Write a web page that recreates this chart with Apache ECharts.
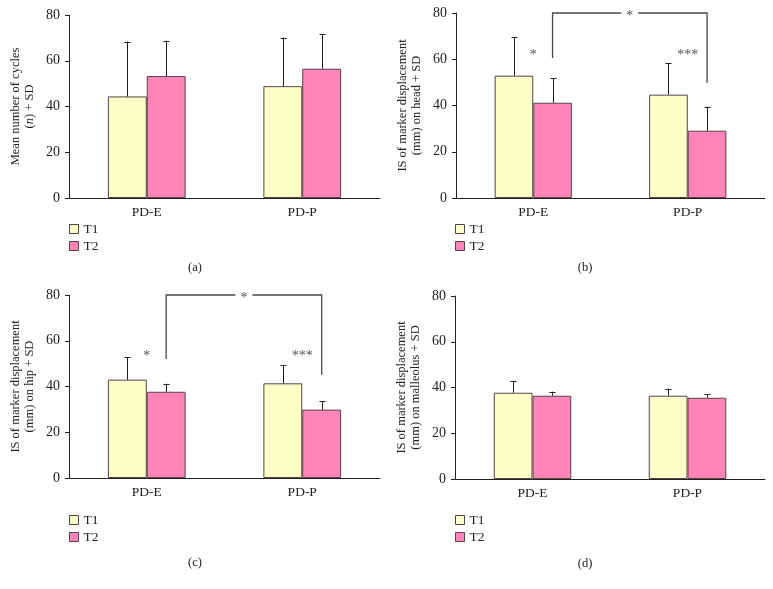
<!DOCTYPE html>
<html>
<head>
<meta charset="utf-8">
<script src="https://cdn.jsdelivr.net/npm/echarts@6/dist/echarts.min.js"></script>
<style>
html,body{margin:0;padding:0;background:#fff;}
#c{width:773px;height:589px;}
</style>
</head>
<body>
<div id="c"></div>
<script>
// ---- data ----
var categories = ['PD-E', 'PD-P'];
var seriesNames = ['T1', 'T2'];
var yTicks = [0, 20, 40, 60, 80];

// (a) mean number of cycles
var aT1 = [44.4, 48.9], aT1Sd = [24.0, 21.2];
var aT2 = [53.3, 56.5], aT2Sd = [15.5, 15.0];
// (b) head
var bT1 = [52.9, 44.7], bT1Sd = [16.9, 13.5];
var bT2 = [41.2, 29.1], bT2Sd = [10.6, 10.4];
// (c) hip
var cT1 = [43.0, 41.4], cT1Sd = [9.7, 8.0];
var cT2 = [37.7, 29.9], cT2Sd = [3.5, 3.6];
// (d) malleolus
var dT1 = [37.7, 36.4], dT1Sd = [5.3, 3.1];
var dT2 = [36.4, 35.5], dT2Sd = [1.8, 1.6];

// significance: [left bracket end, right bracket end, bracket top, star level]
var bSig = [60.5, 49.7, 80, 62.8];
var cSig = [52.0, 45.1, 80, 54.5];
var sigWithin = ['*', '***'];
var sigBetween = '*';

var yNames = [
  'Mean number of cycles\n({n|n}) + SD',
  'IS of marker displacement\n(mm) on head + SD',
  'IS of marker displacement\n(mm) on hip + SD',
  'IS of marker displacement\n(mm) on malleolus + SD'
];
var captions = ['(a)', '(b)', '(c)', '(d)'];

// ---- styles ----
var FONT = '"Liberation Serif", "DejaVu Serif", serif';
var TXT = '#222';
var T1C = '#fcffc6', T2C = '#ff85b8', BORDER = '#54424a';

var grids = [
  {left: 69, right: 393, top: 15, bottom: 391},
  {left: 456, right: 8, top: 13, bottom: 391},
  {left: 69, right: 393, top: 295, bottom: 111},
  {left: 455, right: 8, top: 296, bottom: 110}
];
var legendPos = [
  {left: 69, top: 222},
  {left: 455, top: 222},
  {left: 69, top: 513},
  {left: 455, top: 513}
];
var captionPos = [[195, 268], [585, 268], [195, 563], [585, 564]];

var panels = [
  [aT1, aT1Sd, aT2, aT2Sd],
  [bT1, bT1Sd, bT2, bT2Sd],
  [cT1, cT1Sd, cT2, cT2Sd],
  [dT1, dT1Sd, dT2, dT2Sd]
];

function errRender(offset) {
  return function (params, api) {
    var x = api.value(0);
    var lo = api.coord([x, api.value(1)]);
    var hi = api.coord([x, api.value(2)]);
    var band = api.size([1, 0])[0];
    var cx = Math.round(lo[0] + offset * band) + 0.5;
    var st = {stroke: '#1e1e1e', lineWidth: 1};
    return {type: 'group', children: [
      {type: 'line', shape: {x1: cx, y1: lo[1], x2: cx, y2: hi[1]}, style: st},
      {type: 'line', shape: {x1: cx - 3, y1: Math.round(hi[1]) + 0.5, x2: cx + 3, y2: Math.round(hi[1]) + 0.5}, style: st}
    ]};
  };
}

function sigRender(sig) {
  return function (params, api) {
    var band = api.size([1, 0])[0];
    var pL = api.coord([0, sig[0]]);
    var pR = api.coord([1, sig[1]]);
    var tL = api.coord([0, sig[2]]);
    var xL = pL[0] + 0.125 * band, xR = pR[0] + 0.125 * band;
    var yT = tL[1];
    var s0 = api.coord([0, sig[3]]);
    var s1 = api.coord([1, sig[3]]);
    var st = {stroke: '#4a4a4a', lineWidth: 1.3, fill: null};
    var txtStyle = function (t, x, y, bg) {
      var o = {text: t, x: x, y: y, fill: '#555', font: '14px ' + FONT, align: 'center', verticalAlign: 'middle'};
      if (bg) { o.backgroundColor = '#fff'; o.padding = [0, 5]; }
      return o;
    };
    return {type: 'group', children: [
      {type: 'polyline', shape: {points: [[xL, pL[1]], [xL, yT], [xR, yT], [xR, pR[1]]]}, style: st},
      {type: 'text', style: txtStyle(sigBetween, (xL + xR) / 2, yT + 3, true), z2: 10},
      {type: 'text', style: txtStyle(sigWithin[0], s0[0], s0[1] + 3)},
      {type: 'text', style: txtStyle(sigWithin[1], s1[0], s1[1] + 3)}
    ]};
  };
}

var option = {
  animation: false,
  backgroundColor: '#fff',
  grid: grids,
  xAxis: grids.map(function (g, i) {
    return {
      type: 'category', gridIndex: i, data: categories,
      axisLine: {lineStyle: {color: TXT, width: 1}},
      axisTick: {show: false},
      axisLabel: {color: TXT, fontFamily: FONT, fontSize: 13.5, margin: 7}
    };
  }),
  yAxis: grids.map(function (g, i) {
    return {
      type: 'value', gridIndex: i, min: yTicks[0], max: yTicks[yTicks.length - 1], interval: 20,
      splitLine: {show: false},
      axisLine: {show: true, lineStyle: {color: TXT, width: 1}},
      axisTick: {show: true, length: 4, lineStyle: {color: TXT}},
      axisLabel: {color: TXT, fontFamily: FONT, fontSize: 14, margin: 9},
      name: yNames[i], nameLocation: 'middle', nameRotate: 90, nameGap: 32,
      nameTextStyle: {color: TXT, fontFamily: FONT, fontSize: 12.5, lineHeight: 14,
        rich: {n: {fontStyle: 'italic', fontFamily: FONT, fontSize: 12.5, color: TXT, lineHeight: 14}}}
    };
  }),
  legend: legendPos.map(function (p) {
    return {
      left: p.left, top: p.top, orient: 'vertical', data: seriesNames, padding: 0,
      icon: 'rect', itemWidth: 9, itemHeight: 9, itemGap: 3,
      itemStyle: {borderColor: BORDER, borderWidth: 1},
      textStyle: {color: TXT, fontFamily: FONT, fontSize: 13.5},
      selectedMode: false
    };
  }),
  graphic: captions.map(function (t, i) {
    return {type: 'text', x: captionPos[i][0], y: captionPos[i][1],
      style: {text: t, fill: TXT, font: '12.5px ' + FONT, align: 'center', verticalAlign: 'middle'}};
  }),
  series: []
};

panels.forEach(function (p, i) {
  [0, 1].forEach(function (k) {
    var means = p[k * 2];
    option.series.push({
      type: 'bar', name: seriesNames[k], xAxisIndex: i, yAxisIndex: i,
      data: means, barGap: 0, barCategoryGap: '50%',
      itemStyle: {color: k === 0 ? T1C : T2C, borderColor: BORDER, borderWidth: 1}
    });
  });
});
panels.forEach(function (p, i) {
  [0, 1].forEach(function (k) {
    var means = p[k * 2], sds = p[k * 2 + 1];
    option.series.push({
      type: 'custom', xAxisIndex: i, yAxisIndex: i, z: 5,
      renderItem: errRender(k === 0 ? -0.125 : 0.125),
      data: means.map(function (m, j) { return [j, m, m + sds[j]]; })
    });
  });
});
[[1, bSig], [2, cSig]].forEach(function (e) {
  option.series.push({
    type: 'custom', xAxisIndex: e[0], yAxisIndex: e[0], z: 6, clip: false,
    renderItem: sigRender(e[1]),
    data: [[0, 0]]
  });
});

var chart = echarts.init(document.getElementById('c'), null, {renderer: 'canvas'});
chart.setOption(option);
</script>
</body>
</html>
